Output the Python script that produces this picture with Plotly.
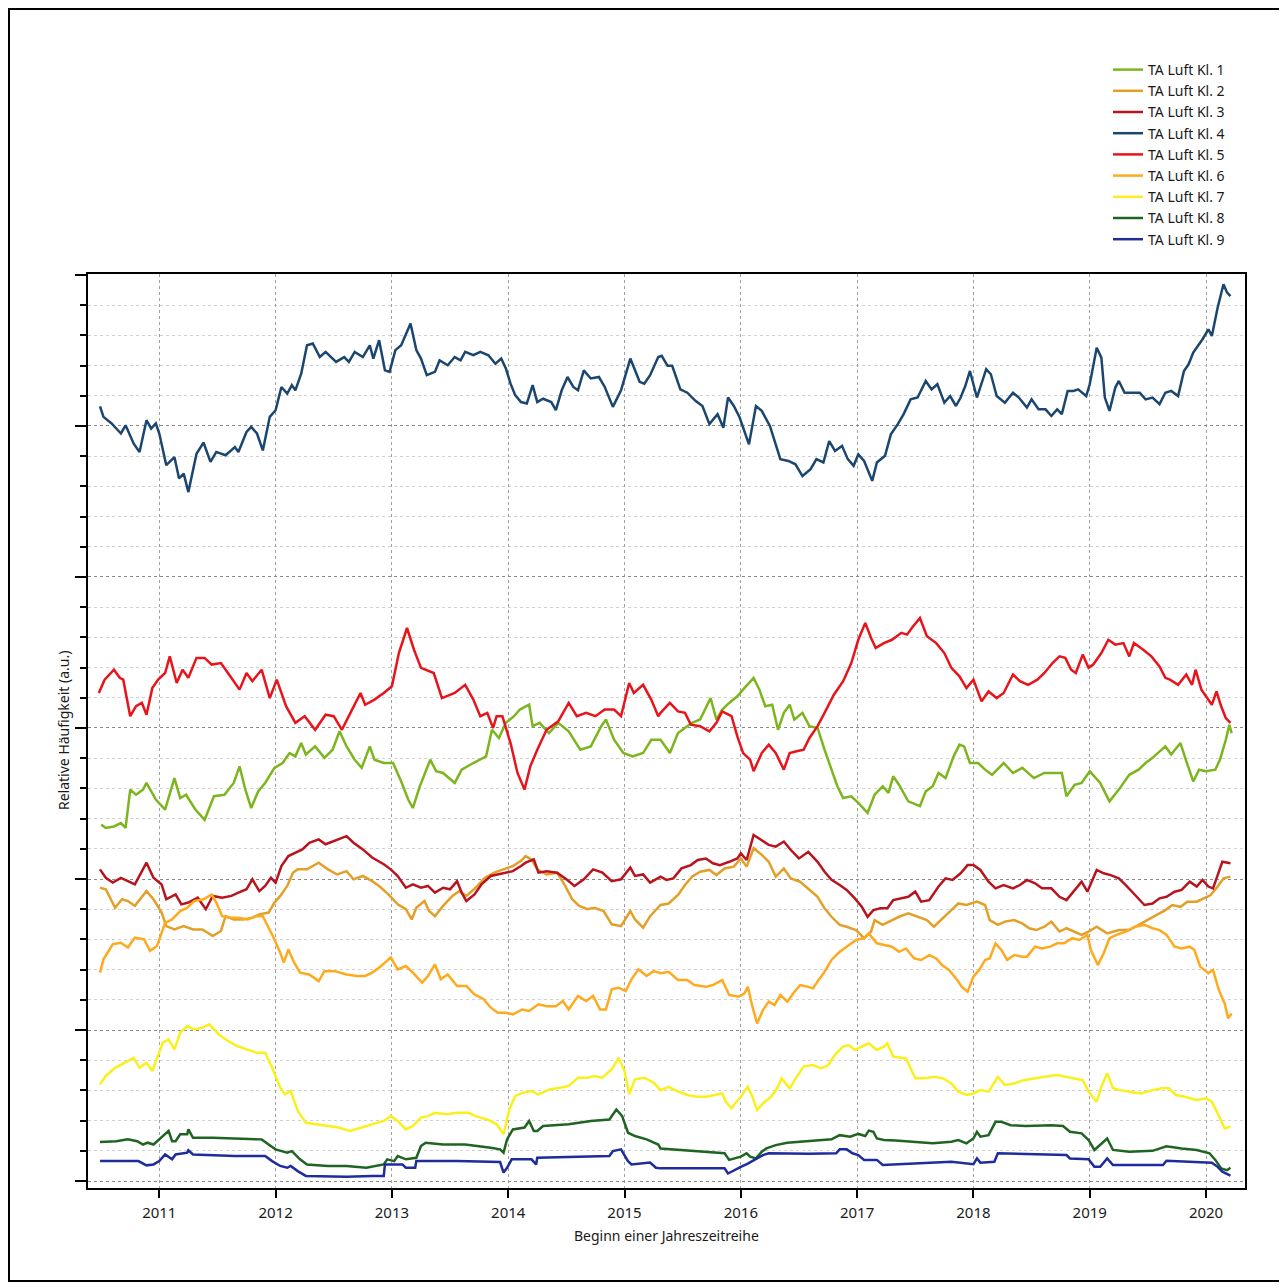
import plotly.graph_objects as go

# ---------------- data (decimal years, relative units) ----------------
X_KL4 = [2010.49,2010.52,2010.59,2010.67,2010.71,2010.78,2010.83,2010.89,2010.93,2010.97,2011.0,2011.06,2011.13,2011.17,2011.21,2011.25,2011.32,2011.38,2011.44,2011.49,2011.57,2011.65,2011.68,2011.75,2011.79,2011.84,2011.89,2011.95,2012.0,2012.05,2012.1,2012.14,2012.17,2012.22,2012.27,2012.32,2012.38,2012.43,2012.52,2012.59,2012.63,2012.68,2012.75,2012.81,2012.84,2012.89,2012.94,2012.98,2013.03,2013.08,2013.16,2013.21,2013.25,2013.3,2013.37,2013.41,2013.48,2013.54,2013.59,2013.63,2013.7,2013.76,2013.83,2013.89,2013.94,2013.98,2014.02,2014.06,2014.11,2014.16,2014.21,2014.25,2014.3,2014.37,2014.41,2014.46,2014.51,2014.56,2014.6,2014.65,2014.71,2014.78,2014.83,2014.9,2014.97,2015.05,2015.13,2015.17,2015.22,2015.29,
          2015.32,2015.37,2015.41,2015.48,2015.54,2015.61,2015.67,2015.73,2015.8,2015.85,2015.89,2015.94,2015.99,2016.02,2016.07,2016.13,2016.18,2016.25,2016.29,2016.34,2016.41,2016.47,2016.53,2016.6,2016.65,2016.71,2016.76,2016.81,2016.87,2016.92,2016.97,2017.01,2017.06,2017.13,2017.17,2017.24,2017.29,2017.35,2017.4,2017.46,2017.52,2017.59,2017.64,2017.69,2017.75,2017.8,2017.85,2017.89,2017.93,2017.97,2018.03,2018.07,2018.11,2018.15,2018.2,2018.27,2018.34,2018.39,2018.46,2018.5,2018.56,2018.62,2018.67,2018.72,2018.76,2018.81,2018.86,2018.9,2018.97,2019.0,2019.06,2019.1,2019.13,2019.17,2019.22,2019.25,2019.3,2019.37,2019.43,2019.48,2019.54,2019.6,2019.65,2019.7,2019.76,2019.81,2019.85,2019.89,2019.97,2020.02,2020.05,2020.1,2020.15,2020.18,2020.21]
Y_KL4 = [25.65,25.3,25.08,24.75,25.02,24.41,24.14,25.19,24.91,25.08,24.75,23.7,23.97,23.26,23.42,22.81,24.08,24.45,23.81,24.14,24.03,24.3,24.14,24.8,24.97,24.75,24.19,25.3,25.52,26.29,26.07,26.35,26.18,26.73,27.67,27.73,27.28,27.45,27.12,27.28,27.12,27.45,27.28,27.67,27.23,27.84,26.84,26.79,27.51,27.67,28.39,27.51,27.23,26.68,26.79,27.17,27.01,27.28,27.17,27.45,27.34,27.45,27.34,27.06,27.23,26.9,26.4,26.02,25.79,25.74,26.35,25.79,25.9,25.79,25.52,26.18,26.62,26.29,26.18,26.84,26.57,26.62,26.29,25.63,26.18,27.23,26.46,26.4,26.68,27.28,
          27.32,26.99,26.99,26.21,26.1,25.83,25.66,25.06,25.39,24.94,25.94,25.66,25.28,24.94,24.39,25.66,25.5,25.0,24.5,23.9,23.84,23.73,23.34,23.57,23.9,23.79,24.5,24.17,24.34,23.9,23.68,24.06,23.84,23.18,23.79,24.01,24.72,25.06,25.39,25.88,25.94,26.49,26.21,26.38,25.77,25.99,25.66,25.94,26.32,26.82,25.94,26.38,26.88,26.71,25.99,25.77,26.1,25.94,25.61,25.88,25.55,25.55,25.33,25.55,25.39,26.16,26.16,26.21,25.99,26.38,27.59,27.26,25.94,25.5,26.27,26.49,26.1,26.1,26.1,25.88,25.94,25.72,26.1,26.16,25.99,26.82,27.04,27.43,27.87,28.2,27.98,28.92,29.69,29.42,29.3]

X_KL5 = [2010.48,2010.53,2010.61,2010.66,2010.69,2010.75,2010.8,2010.85,2010.89,2010.94,2010.99,2011.05,2011.09,2011.15,2011.2,2011.25,2011.32,2011.39,2011.45,2011.53,2011.61,2011.69,2011.75,2011.8,2011.88,2011.95,2012.01,2012.09,2012.17,2012.25,2012.34,2012.43,2012.5,2012.57,2012.65,2012.73,2012.77,2012.85,2012.93,2013.0,2013.06,2013.13,2013.19,2013.25,2013.36,2013.43,2013.54,2013.63,2013.7,2013.76,2013.82,2013.87,2013.9,2013.95,2014.02,2014.08,2014.14,2014.19,2014.25,2014.33,2014.43,2014.52,2014.59,2014.67,2014.75,2014.83,2014.91,2014.97,2015.04,2015.08,2015.16,2015.23,2015.29,
          2015.31,2015.39,2015.46,2015.52,2015.57,2015.65,2015.73,2015.79,2015.84,2015.92,2015.97,2016.02,2016.08,2016.11,2016.18,2016.24,2016.3,2016.37,2016.42,2016.48,2016.54,2016.59,2016.66,2016.72,2016.8,2016.88,2016.95,2017.01,2017.07,2017.12,2017.16,2017.23,2017.3,2017.38,2017.43,2017.47,2017.54,2017.6,2017.68,2017.75,2017.81,2017.88,2017.94,2018.0,2018.07,2018.13,2018.2,2018.26,2018.34,2018.4,2018.47,2018.55,2018.61,2018.68,2018.74,2018.79,2018.84,2018.88,2018.94,2018.99,2019.03,2019.1,2019.16,2019.22,2019.29,2019.34,2019.38,2019.46,2019.53,2019.6,2019.65,2019.69,2019.76,2019.83,2019.88,2019.91,2019.96,2020.01,2020.05,2020.09,2020.13,2020.17,2020.21]
Y_KL5 = [16.16,16.6,16.93,16.66,16.6,15.39,15.72,15.83,15.44,16.32,16.6,16.82,17.37,16.49,16.93,16.66,17.32,17.32,17.1,17.15,16.71,16.27,16.82,16.55,16.93,15.99,16.6,15.72,15.17,15.39,14.94,15.44,15.39,14.94,15.55,16.16,15.77,15.94,16.16,16.38,17.48,18.31,17.59,16.99,16.82,15.99,16.16,16.43,15.94,15.39,15.5,15.0,15.39,15.39,14.5,13.51,12.96,13.73,14.28,14.94,15.22,15.83,15.39,15.5,15.39,15.61,15.61,15.39,16.49,16.16,16.43,15.94,15.39,
          15.5,15.83,15.55,15.5,15.11,15.06,14.89,15.17,15.55,15.39,14.72,14.17,13.95,13.57,14.17,14.45,14.17,13.62,14.17,14.23,14.28,14.67,15.06,15.5,16.1,16.55,17.15,17.92,18.48,17.98,17.65,17.81,17.92,18.15,18.09,18.31,18.64,18.04,17.81,17.48,16.99,16.71,16.32,16.6,15.88,16.21,15.99,16.16,16.77,16.55,16.43,16.6,16.82,17.15,17.37,17.32,16.93,16.82,17.43,16.99,17.1,17.48,17.92,17.76,17.81,17.37,17.81,17.59,17.37,17.04,16.66,16.6,16.43,16.77,16.43,16.93,16.27,15.99,15.77,16.21,15.72,15.33,15.17]

X_KL1 = [2010.5,2010.54,2010.61,2010.67,2010.71,2010.75,2010.8,2010.86,2010.89,2010.97,2011.05,2011.13,2011.18,2011.23,2011.31,2011.39,2011.47,2011.56,2011.64,2011.69,2011.74,2011.79,2011.85,2011.91,2011.99,2012.06,2012.12,2012.17,2012.22,2012.26,2012.34,2012.42,2012.49,2012.55,2012.61,2012.68,2012.74,2012.81,2012.85,2012.93,2013.01,2013.08,2013.14,2013.18,2013.24,2013.33,2013.38,2013.44,2013.54,2013.6,2013.7,2013.76,2013.81,2013.86,2013.92,2013.98,2014.05,2014.1,2014.18,2014.21,2014.27,2014.35,2014.43,2014.52,2014.62,2014.71,2014.8,2014.84,2014.91,2014.99,2015.07,2015.16,2015.23,
          2015.31,2015.39,2015.46,2015.52,2015.58,2015.65,2015.71,2015.74,2015.79,2015.84,2015.9,2015.97,2016.03,2016.11,2016.16,2016.21,2016.27,2016.32,2016.37,2016.42,2016.46,2016.53,2016.59,2016.66,2016.72,2016.79,2016.83,2016.88,2016.95,2017.01,2017.09,2017.15,2017.22,2017.27,2017.31,2017.36,2017.44,2017.54,2017.59,2017.65,2017.7,2017.76,2017.83,2017.88,2017.92,2017.97,2018.04,2018.1,2018.16,2018.26,2018.34,2018.42,2018.52,2018.61,2018.69,2018.76,2018.8,2018.87,2018.93,2019.0,2019.09,2019.17,2019.25,2019.34,2019.42,2019.48,2019.54,2019.62,2019.65,2019.7,2019.78,2019.83,2019.89,2019.94,2020.0,2020.08,2020.12,2020.17,2020.2,2020.22]
Y_KL1 = [11.8,11.69,11.74,11.85,11.69,12.96,12.79,12.96,13.18,12.63,12.3,13.34,12.68,12.79,12.3,11.96,12.74,12.79,13.18,13.73,12.96,12.35,12.9,13.18,13.68,13.84,14.17,14.06,14.5,14.12,14.39,14.01,14.28,14.89,14.39,13.95,13.68,14.39,13.95,13.84,13.84,13.23,12.63,12.35,13.07,13.95,13.57,13.51,13.18,13.62,13.84,13.95,14.06,14.94,14.67,15.17,15.39,15.61,15.77,15.06,15.17,14.83,15.17,14.89,14.28,14.39,15.06,15.28,14.61,14.17,14.06,14.17,14.61,
          14.61,14.17,14.83,15.0,15.17,15.28,15.72,15.99,15.28,15.61,15.83,16.05,16.32,16.66,16.27,15.72,15.77,14.94,15.5,15.77,15.28,15.5,15.06,15.0,14.28,13.51,13.07,12.68,12.74,12.52,12.19,12.79,13.07,12.85,13.4,13.12,12.57,12.41,12.9,13.07,13.51,13.34,14.06,14.45,14.39,13.84,13.84,13.62,13.45,13.84,13.51,13.68,13.34,13.51,13.51,13.51,12.74,13.12,13.18,13.57,13.18,12.57,12.96,13.45,13.62,13.84,14.01,14.28,14.39,14.12,14.5,13.9,13.23,13.62,13.57,13.62,13.95,14.61,15.11,14.83]

X_KL3 = [2010.49,2010.54,2010.6,2010.67,2010.73,2010.79,2010.89,2010.95,2011.02,2011.06,2011.14,2011.19,2011.25,2011.33,2011.4,2011.46,2011.54,2011.62,2011.68,2011.75,2011.8,2011.86,2011.91,2011.96,2012.0,2012.05,2012.11,2012.17,2012.23,2012.29,2012.37,2012.43,2012.51,2012.61,2012.67,2012.75,2012.83,2012.93,2012.99,2013.05,2013.12,2013.18,2013.25,2013.31,2013.37,2013.44,2013.5,2013.56,2013.6,2013.64,2013.71,2013.77,2013.85,2013.91,2013.98,2014.04,2014.11,2014.15,2014.22,2014.26,2014.33,2014.42,2014.5,2014.57,2014.65,2014.73,2014.81,2014.89,2014.97,2015.05,2015.09,2015.16,2015.22,
          2015.31,2015.36,2015.42,2015.49,2015.57,2015.63,2015.7,2015.76,2015.82,2015.9,2015.97,2016.0,2016.05,2016.11,2016.18,2016.24,2016.3,2016.37,2016.43,2016.5,2016.58,2016.66,2016.72,2016.78,2016.85,2016.91,2016.98,2017.04,2017.09,2017.14,2017.2,2017.26,2017.31,2017.38,2017.44,2017.5,2017.55,2017.62,2017.7,2017.76,2017.82,2017.89,2017.95,2018.0,2018.06,2018.13,2018.19,2018.26,2018.34,2018.4,2018.46,2018.53,2018.59,2018.67,2018.74,2018.8,2018.86,2018.93,2018.98,2019.06,2019.12,2019.18,2019.25,2019.31,2019.39,2019.47,2019.54,2019.6,2019.66,2019.73,2019.79,2019.86,2019.92,2019.97,2020.02,2020.06,2020.1,2020.14,2020.21]
Y_KL3 = [10.32,10.04,9.88,10.04,9.93,9.82,10.54,10.04,9.82,9.33,9.49,9.16,9.22,9.38,9.0,9.44,9.38,9.44,9.55,9.66,9.99,9.6,9.77,10.04,9.88,10.43,10.76,10.87,10.98,11.2,11.31,11.15,11.26,11.42,11.2,10.98,10.71,10.49,10.32,10.1,9.71,9.82,9.71,9.77,9.55,9.71,9.66,9.93,9.55,9.27,9.49,9.82,10.1,10.15,10.21,10.26,10.43,10.54,10.65,10.21,10.26,10.21,9.99,9.77,9.99,10.32,10.21,9.93,9.99,10.38,10.1,10.15,9.88,
          10.08,9.97,10.02,10.35,10.46,10.63,10.68,10.52,10.46,10.57,10.68,10.85,10.63,11.46,11.29,11.13,11.07,11.24,10.96,10.68,10.9,10.57,10.24,9.97,9.8,9.64,9.36,9.08,8.75,8.97,9.03,9.03,9.3,9.36,9.41,9.58,9.25,9.3,9.75,10.02,9.97,10.19,10.46,10.46,10.3,9.91,9.69,9.8,9.69,9.8,9.97,9.86,9.69,9.69,9.41,9.3,9.58,9.91,9.58,10.3,10.19,10.13,10.02,9.8,9.47,9.14,9.19,9.36,9.41,9.58,9.64,9.91,9.75,9.97,9.75,9.69,10.13,10.57,10.52]

X_KL2 = [2010.49,2010.54,2010.62,2010.68,2010.73,2010.79,2010.89,2010.95,2011.02,2011.06,2011.13,2011.21,2011.29,2011.37,2011.46,2011.53,2011.57,2011.64,2011.72,2011.8,2011.86,2011.94,2011.99,2012.04,2012.1,2012.15,2012.19,2012.27,2012.37,2012.45,2012.53,2012.61,2012.67,2012.75,2012.83,2012.89,2012.97,2013.05,2013.12,2013.17,2013.21,2013.28,2013.32,2013.37,2013.44,2013.52,2013.58,2013.64,2013.72,2013.8,2013.88,2013.96,2014.04,2014.11,2014.15,2014.2,2014.25,2014.33,2014.42,2014.49,2014.55,2014.61,2014.68,2014.74,2014.82,2014.89,2014.97,2015.05,2015.09,2015.16,2015.22,
          2015.31,2015.38,2015.46,2015.52,2015.58,2015.65,2015.73,2015.79,2015.86,2015.94,2016.0,2016.05,2016.11,2016.18,2016.24,2016.3,2016.37,2016.43,2016.51,2016.59,2016.66,2016.72,2016.78,2016.85,2016.91,2016.99,2017.06,2017.12,2017.15,2017.22,2017.3,2017.36,2017.44,2017.52,2017.6,2017.66,2017.74,2017.81,2017.87,2017.94,2018.03,2018.1,2018.14,2018.21,2018.27,2018.35,2018.42,2018.48,2018.54,2018.61,2018.67,2018.74,2018.8,2018.86,2018.93,2018.99,2019.06,2019.15,2019.25,2019.34,2019.44,2019.5,2019.58,2019.65,2019.71,2019.78,2019.84,2019.92,2019.98,2020.04,2020.1,2020.15,2020.21]
Y_KL2 = [9.71,9.66,9.05,9.33,9.27,9.11,9.6,9.33,8.89,8.44,8.33,8.44,8.33,8.33,8.11,8.28,8.77,8.66,8.66,8.72,8.83,8.89,9.22,9.44,9.77,10.21,10.32,10.32,10.54,10.32,10.15,10.26,9.99,10.1,9.93,9.77,9.49,9.16,9.0,8.66,9.05,9.27,8.94,8.77,9.11,9.44,9.6,9.44,9.71,10.04,10.21,10.32,10.43,10.6,10.76,10.65,10.32,10.15,10.21,9.77,9.33,9.11,9.0,9.05,8.94,8.5,8.44,8.94,8.66,8.39,8.77,
          9.14,9.19,9.47,9.8,10.08,10.24,10.3,10.13,10.35,10.41,10.68,10.41,11.02,10.8,10.57,10.08,10.35,10.02,9.91,9.64,9.41,9.03,8.75,8.48,8.42,8.31,8.04,8.26,8.64,8.48,8.64,8.75,8.86,8.75,8.64,8.42,8.7,8.97,9.19,9.14,9.25,9.14,8.64,8.48,8.59,8.64,8.53,8.37,8.31,8.42,8.59,8.26,8.37,8.26,8.15,8.26,8.42,8.2,8.31,8.31,8.53,8.64,8.81,8.97,9.14,9.08,9.25,9.25,9.36,9.47,9.75,10.02,10.08]

X_KL6 = [2010.49,2010.52,2010.6,2010.67,2010.73,2010.79,2010.87,2010.92,2010.98,2011.05,2011.11,2011.18,2011.24,2011.3,2011.38,2011.45,2011.49,2011.54,2011.61,2011.68,2011.76,2011.84,2011.89,2011.94,2011.99,2012.04,2012.07,2012.11,2012.16,2012.21,2012.29,2012.37,2012.42,2012.51,2012.61,2012.7,2012.77,2012.83,2012.89,2012.94,2012.99,2013.05,2013.12,2013.18,2013.26,2013.31,2013.37,2013.42,2013.48,2013.56,2013.64,2013.71,2013.79,2013.85,2013.91,2013.98,2014.04,2014.12,2014.18,2014.26,2014.33,2014.41,2014.47,2014.52,2014.6,2014.67,2014.73,2014.79,2014.84,2014.89,2014.95,2015.01,2015.06,2015.12,2015.19,2015.25,
          2015.31,2015.38,2015.46,2015.54,2015.6,2015.7,2015.76,2015.84,2015.9,2015.98,2016.03,2016.06,2016.1,2016.14,2016.19,2016.24,2016.29,2016.34,2016.4,2016.45,2016.51,2016.58,2016.62,2016.67,2016.72,2016.78,2016.85,2016.91,2016.99,2017.06,2017.1,2017.17,2017.23,2017.3,2017.36,2017.42,2017.49,2017.55,2017.62,2017.68,2017.73,2017.79,2017.86,2017.9,2017.95,2018.0,2018.05,2018.1,2018.14,2018.19,2018.24,2018.29,2018.35,2018.42,2018.46,2018.53,2018.59,2018.66,2018.72,2018.78,2018.85,2018.91,2018.98,2019.01,2019.07,2019.12,2019.17,2019.23,2019.31,2019.39,2019.47,2019.54,2019.6,2019.66,2019.73,2019.79,2019.86,2019.9,2019.95,2020.02,2020.06,2020.11,2020.16,2020.19,2020.22]
Y_KL6 = [6.9,7.34,7.84,7.89,7.73,8.06,8.0,7.62,7.78,8.55,8.66,8.94,9.05,9.27,9.33,9.49,9.22,8.77,8.72,8.72,8.66,8.77,8.77,8.39,8.0,7.56,7.23,7.67,7.23,6.9,6.84,6.62,6.95,6.95,6.84,6.79,6.79,6.9,7.06,7.23,7.4,7.01,7.12,6.9,6.57,6.79,7.17,6.68,6.84,6.46,6.46,6.18,6.02,5.74,5.57,5.57,5.52,5.68,5.63,5.85,5.79,5.79,5.96,5.68,6.13,5.96,6.13,5.68,5.68,6.35,6.4,6.29,6.68,7.01,6.79,6.95,
          6.88,6.93,6.66,6.66,6.49,6.43,6.49,6.66,6.16,6.1,6.21,6.43,5.77,5.22,5.66,5.94,5.83,6.16,5.94,6.21,6.49,6.43,6.38,6.66,6.93,7.32,7.59,7.76,7.98,8.04,8.2,7.87,7.81,7.76,7.59,7.7,7.37,7.32,7.48,7.37,7.15,6.99,6.66,6.43,6.27,6.77,6.99,7.32,7.37,7.87,7.65,7.32,7.48,7.43,7.43,7.76,7.7,7.76,7.87,7.87,8.04,7.98,8.15,7.65,7.15,7.54,8.04,8.15,8.26,8.42,8.48,8.37,8.31,8.15,7.76,7.7,7.76,7.65,7.1,6.88,6.99,6.32,5.88,5.39,5.55]

X_KL7 = [2010.49,2010.54,2010.62,2010.7,2010.78,2010.83,2010.89,2010.94,2010.98,2011.03,2011.08,2011.13,2011.18,2011.24,2011.3,2011.37,2011.43,2011.51,2011.59,2011.67,2011.75,2011.84,2011.91,2011.97,2012.04,2012.08,2012.13,2012.19,2012.26,2012.34,2012.43,2012.54,2012.64,2012.74,2012.83,2012.93,2012.99,2013.05,2013.12,2013.18,2013.25,2013.31,2013.37,2013.47,2013.56,2013.66,2013.72,2013.82,2013.9,2013.96,2014.01,2014.06,2014.12,2014.2,2014.26,2014.36,2014.45,2014.52,2014.6,2014.68,2014.74,2014.81,2014.89,2014.95,2015.0,2015.04,2015.09,2015.17,2015.25,
          2015.31,2015.38,2015.46,2015.54,2015.62,2015.7,2015.78,2015.84,2015.87,2015.92,2015.95,2016.0,2016.06,2016.1,2016.14,2016.19,2016.26,2016.32,2016.35,2016.42,2016.48,2016.54,2016.62,2016.69,2016.75,2016.82,2016.88,2016.93,2016.98,2017.04,2017.1,2017.17,2017.23,2017.26,2017.31,2017.42,2017.5,2017.58,2017.66,2017.74,2017.81,2017.87,2017.94,2018.0,2018.06,2018.13,2018.21,2018.27,2018.35,2018.43,2018.51,2018.61,2018.72,2018.8,2018.88,2018.94,2018.99,2019.06,2019.1,2019.15,2019.2,2019.26,2019.34,2019.44,2019.54,2019.62,2019.68,2019.74,2019.82,2019.92,2020.0,2020.05,2020.1,2020.16,2020.21]
Y_KL7 = [3.2,3.48,3.75,3.92,4.08,3.75,3.92,3.64,4.03,4.58,4.69,4.36,4.91,5.13,5.02,5.08,5.19,4.86,4.64,4.47,4.36,4.25,4.25,3.75,3.09,2.87,2.98,2.32,1.93,1.88,1.82,1.77,1.66,1.77,1.88,1.99,2.15,1.99,1.71,1.82,2.1,2.15,2.26,2.21,2.26,2.26,2.15,2.04,1.88,1.55,2.37,2.81,2.92,2.98,2.87,3.04,3.09,3.15,3.42,3.42,3.48,3.42,3.7,4.08,3.64,2.87,3.37,3.42,3.26,
          3.01,3.12,2.96,2.85,2.79,2.79,2.85,2.9,2.63,2.41,2.57,2.79,3.12,2.79,2.35,2.57,2.79,3.12,3.4,3.07,3.45,3.79,3.84,3.73,3.84,4.23,4.45,4.5,4.34,4.45,4.56,4.34,4.45,4.56,4.12,4.06,3.4,3.4,3.45,3.4,3.23,2.96,2.85,2.9,3.01,2.96,3.45,3.18,3.23,3.34,3.4,3.45,3.51,3.45,3.4,3.34,2.96,2.63,3.12,3.57,3.07,3.01,2.96,2.9,3.01,3.07,3.07,2.85,2.79,2.68,2.74,2.63,2.24,1.74,1.8]

X_KL8 = [2010.49,2010.63,2010.73,2010.81,2010.86,2010.9,2010.95,2011.0,2011.05,2011.08,2011.11,2011.14,2011.18,2011.24,2011.25,2011.29,2011.46,2011.65,2011.88,2011.94,2012.0,2012.1,2012.14,2012.21,2012.27,2012.45,2012.61,2012.78,2012.85,2012.93,2012.96,2013.02,2013.05,2013.12,2013.21,2013.25,2013.29,2013.44,2013.63,2013.75,2013.85,2013.93,2013.96,2013.99,2014.04,2014.14,2014.18,2014.22,2014.25,2014.3,2014.52,2014.71,2014.87,2014.93,2014.98,2015.03,2015.09,2015.19,2015.29,
          2015.31,2015.5,2015.66,2015.86,2015.9,2015.95,2016.0,2016.05,2016.08,2016.13,2016.18,2016.22,2016.3,2016.4,2016.53,2016.69,2016.78,2016.85,2016.94,2017.01,2017.07,2017.1,2017.14,2017.17,2017.23,2017.33,2017.49,2017.65,2017.81,2017.87,2017.94,2018.0,2018.03,2018.06,2018.13,2018.19,2018.24,2018.32,2018.45,2018.67,2018.77,2018.83,2018.93,2018.99,2019.04,2019.09,2019.15,2019.2,2019.34,2019.54,2019.66,2019.79,2019.92,2020.03,2020.08,2020.13,2020.18,2020.21]
Y_KL8 = [1.29,1.32,1.38,1.32,1.21,1.27,1.21,1.38,1.55,1.66,1.32,1.32,1.55,1.55,1.71,1.43,1.43,1.4,1.38,1.21,1.05,0.94,0.99,0.72,0.55,0.5,0.5,0.44,0.5,0.55,0.72,0.66,0.83,0.72,0.77,1.16,1.27,1.21,1.21,1.16,1.1,1.05,0.94,1.38,1.71,1.77,1.99,1.66,1.66,1.82,1.88,1.99,2.04,2.37,2.15,1.6,1.49,1.38,1.21,
          1.08,1.03,0.97,0.92,0.7,0.75,0.81,0.92,0.81,0.75,0.97,1.08,1.19,1.27,1.3,1.34,1.38,1.52,1.47,1.56,1.49,1.67,1.63,1.41,1.36,1.34,1.3,1.25,1.3,1.36,1.25,1.41,1.63,1.47,1.52,1.96,1.96,1.85,1.82,1.85,1.82,1.63,1.58,1.36,1.03,1.19,1.41,1.03,0.97,1.0,1.15,1.08,1.03,0.92,0.7,0.42,0.36,0.44]

X_KL9 = [2010.49,2010.82,2010.89,2010.95,2011.0,2011.05,2011.11,2011.14,2011.24,2011.25,2011.29,2011.65,2011.91,2011.97,2012.04,2012.1,2012.13,2012.19,2012.26,2012.61,2012.83,2012.93,2012.94,2013.09,2013.12,2013.2,2013.21,2013.56,2013.93,2013.96,2013.99,2014.03,2014.2,2014.24,2014.25,2014.52,2014.87,2014.9,2014.97,2015.03,2015.06,2015.22,2015.27,
          2015.31,2015.86,2015.89,2015.94,2016.0,2016.06,2016.11,2016.14,2016.19,2016.24,2016.59,2016.82,2016.85,2016.91,2016.96,2017.01,2017.06,2017.17,2017.22,2017.49,2017.81,2018.0,2018.03,2018.06,2018.18,2018.21,2018.67,2018.8,2018.83,2018.99,2019.04,2019.09,2019.15,2019.2,2019.63,2019.66,2020.05,2020.1,2020.14,2020.21]
Y_KL9 = [0.66,0.66,0.52,0.55,0.66,0.88,0.72,0.88,0.94,1.02,0.88,0.83,0.83,0.66,0.5,0.44,0.5,0.33,0.17,0.14,0.17,0.17,0.55,0.55,0.44,0.44,0.66,0.66,0.63,0.28,0.44,0.72,0.72,0.55,0.77,0.8,0.83,0.99,1.05,0.66,0.55,0.61,0.44,
          0.42,0.42,0.25,0.36,0.47,0.58,0.7,0.75,0.86,0.92,0.9,0.92,1.05,1.05,0.92,0.86,0.7,0.7,0.53,0.58,0.64,0.56,0.75,0.61,0.64,0.92,0.86,0.86,0.75,0.72,0.47,0.47,0.75,0.53,0.53,0.67,0.61,0.47,0.31,0.18]

SERIES = [
    ("TA Luft Kl. 1", X_KL1, Y_KL1, "#7DB51E"),
    ("TA Luft Kl. 2", X_KL2, Y_KL2, "#E3A028"),
    ("TA Luft Kl. 3", X_KL3, Y_KL3, "#B8141E"),
    ("TA Luft Kl. 4", X_KL4, Y_KL4, "#1B4670"),
    ("TA Luft Kl. 5", X_KL5, Y_KL5, "#E8141C"),
    ("TA Luft Kl. 6", X_KL6, Y_KL6, "#FFAA1E"),
    ("TA Luft Kl. 7", X_KL7, Y_KL7, "#FAF01E"),
    ("TA Luft Kl. 8", X_KL8, Y_KL8, "#1F6420"),
    ("TA Luft Kl. 9", X_KL9, Y_KL9, "#1E2C9C"),
]
YEARS = list(range(2011, 2021))
YEAR_LABELS = [str(y) for y in YEARS]

FONT = "Noto Sans"

fig = go.Figure()
for name, xs, ys, col in SERIES:
    fig.add_trace(go.Scatter(x=xs, y=ys, mode="lines", name=name,
                             line=dict(color=col, width=2.5)))

# page has an 8px body margin: figure coordinates = screen coordinates - 8
OFF = 8
W, H = 1279, 1280
L, T = 88 - OFF, 274 - OFF
pw, ph = 1157, 914
R, B = W - L - pw, H - T - ph

def px(xpix):
    return (xpix - OFF - L) / pw

def py(ypix):
    return (T + ph - (ypix - OFF)) / ph

fig.update_layout(
    width=W, height=H,
    margin=dict(l=L, r=R, t=T, b=B, autoexpand=False),
    paper_bgcolor="white", plot_bgcolor="white",
    font=dict(family=FONT, size=14, color="#1a1a1a"),
    showlegend=True,
    legend=dict(x=px(1108), y=py(54), xanchor="left", yanchor="top",
                font=dict(size=14, family=FONT, color="#1a1a1a"),
                bgcolor="rgba(0,0,0,0)", tracegroupgap=0, itemwidth=30),
    xaxis=dict(range=[2010.387, 2020.335], tickmode="array", tickvals=YEARS,
               ticktext=YEAR_LABELS, ticks="outside", ticklen=8, tickwidth=2,
               tickcolor="black", showline=True, linecolor="black", linewidth=2,
               mirror=True, showgrid=True, gridcolor="#a0a0a0", gridwidth=1,
               griddash="dot", zeroline=False, tickfont=dict(size=15),
               ticklabelstandoff=2),
    yaxis=dict(range=[-0.23, 30.03], tick0=0, dtick=5, ticks="outside", ticklen=11,
               tickwidth=2, tickcolor="black", showticklabels=False, showline=True,
               linecolor="black", linewidth=2, mirror=True, showgrid=True,
               gridcolor="#8a8a8a", gridwidth=1, griddash="dot", zeroline=False,
               minor=dict(dtick=1, tick0=0, ticks="outside", ticklen=6, tickwidth=1.5,
                          tickcolor="black", showgrid=True, gridcolor="#d2d2d2",
                          griddash="dot", gridwidth=1)),
    annotations=[
        dict(text="Relative Häufigkeit (a.u.)", xref="paper", yref="paper",
             x=px(63), y=0.5, xanchor="center", yanchor="middle", textangle=-90,
             showarrow=False, font=dict(size=14, family=FONT, color="#1a1a1a")),
        dict(text="Beginn einer Jahreszeitreihe", xref="paper", yref="paper",
             x=0.5, y=py(1235), xanchor="center", yanchor="middle",
             showarrow=False, font=dict(size=14, family=FONT, color="#1a1a1a")),
    ],
    shapes=[
        dict(type="rect", xref="paper", yref="paper", x0=px(9), x1=px(1283),
             y0=py(1281), y1=py(9), line=dict(color="black", width=2), layer="below"),
    ],
)

fig.write_html("out.html")
